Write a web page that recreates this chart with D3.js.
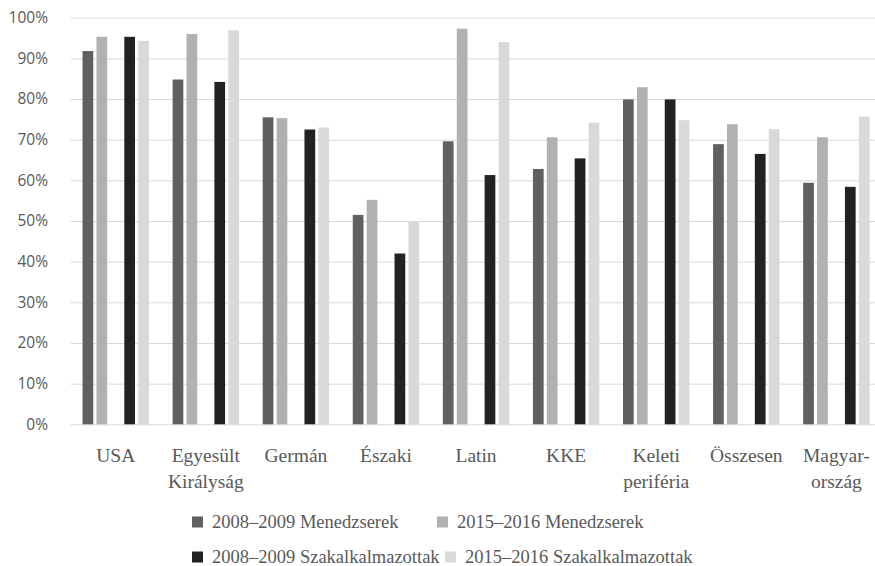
<!DOCTYPE html>
<html>
<head>
<meta charset="utf-8">
<script src="https://cdn.jsdelivr.net/npm/d3@7"></script>
<style>
  html, body { margin: 0; padding: 0; background: #fff; }
  svg { display: block; }
</style>
</head>
<body>
<svg id="chart" width="875" height="566"></svg>
<script>
// Régiók (két soros címkék soronként)
const categories = [
  ["USA"], ["Egyesült", "Királyság"], ["Germán"], ["Északi"], ["Latin"],
  ["KKE"], ["Keleti", "periféria"], ["Összesen"], ["Magyar-", "ország"]
];

// Arányok százalékban
const menedzserek2008 = [91.8, 84.8, 75.5, 51.5, 69.6, 62.8, 79.9, 68.9, 59.4];
const menedzserek2015 = [95.3, 96.0, 75.3, 55.2, 97.3, 70.6, 82.9, 73.8, 70.6];
const szakalk2008     = [95.3, 84.2, 72.5, 42.0, 61.3, 65.4, 79.9, 66.5, 58.4];
const szakalk2015     = [94.3, 96.9, 73.0, 49.9, 94.0, 74.2, 74.8, 72.6, 75.7];

const seriesNames = [
  "2008–2009 Menedzserek", "2015–2016 Menedzserek",
  "2008–2009 Szakalkalmazottak", "2015–2016 Szakalkalmazottak"
];
const yTicks = [0, 10, 20, 30, 40, 50, 60, 70, 80, 90, 100];

const series = [
  { key: "m08", name: seriesNames[0], values: menedzserek2008, color: "#606060" },
  { key: "m15", name: seriesNames[1], values: menedzserek2015, color: "#b1b1b1" },
  { key: "s08", name: seriesNames[2], values: szakalk2008,     color: "#222222" },
  { key: "s15", name: seriesNames[3], values: szakalk2015,     color: "#d9d9d9" }
];

const svg = d3.select("#chart");
const textColor = "#595959";
const serif = "'Liberation Serif', 'DejaVu Serif', serif";
const sans = "'Open Sans', 'Noto Sans', sans-serif";

const plot = { left: 70.7, right: 881.4, top: 17.7, bottom: 424.3 };

const x = d3.scaleBand()
  .domain(d3.range(categories.length))
  .range([plot.left, plot.right])
  .padding(0);

// Az alcsoportokban üres hely választja el a két foglalkozási csoportot
const xInner = d3.scaleBand()
  .domain(["m08", "m15", "gap", "s08", "s15"])
  .range([0, x.bandwidth()])
  .paddingInner(0.23)
  .paddingOuter(0.85);

const y = d3.scaleLinear().domain([0, 100]).range([plot.bottom, plot.top]);

// Rácsvonalak
svg.append("g")
  .attr("transform", `translate(${plot.left},0)`)
  .call(d3.axisLeft(y).tickValues(yTicks).tickSize(-(plot.right - plot.left)).tickFormat(""))
  .call(g => g.select(".domain").remove())
  .call(g => g.selectAll(".tick line").attr("stroke", "#d9d9d9").attr("stroke-width", 1));

// Y tengely feliratai
svg.append("g")
  .attr("transform", `translate(48,0)`)
  .call(d3.axisLeft(y).tickValues(yTicks).tickSize(0).tickPadding(0).tickFormat(d => d + "%"))
  .call(g => g.select(".domain").remove())
  .call(g => g.selectAll(".tick text")
    .attr("fill", textColor)
    .attr("font-family", sans)
    .attr("font-size", 15.5));

// Oszlopok
const groups = svg.append("g").selectAll("g")
  .data(series)
  .join("g")
  .attr("fill", d => d.color);

groups.selectAll("rect")
  .data(s => s.values.map((v, i) => ({ key: s.key, v, i })))
  .join("rect")
  .attr("x", d => x(d.i) + xInner(d.key))
  .attr("width", xInner.bandwidth())
  .attr("y", d => y(d.v))
  .attr("height", d => y(0) - y(d.v));

// Kategória feliratok
const catLabels = svg.append("g")
  .selectAll("text")
  .data(categories)
  .join("text")
  .attr("x", (d, i) => x(i) + x.bandwidth() / 2)
  .attr("y", 461.5)
  .attr("text-anchor", "middle")
  .attr("fill", textColor)
  .attr("font-family", serif)
  .attr("font-size", 19.5);

catLabels.selectAll("tspan")
  .data(d => d)
  .join("tspan")
  .attr("x", function () { return d3.select(this.parentNode).attr("x"); })
  .attr("dy", (d, i) => i === 0 ? 0 : 26)
  .text(d => d);

// Jelmagyarázat
const legendPos = [
  { x: 192, y: 522 }, { x: 437, y: 522 },
  { x: 192, y: 557 }, { x: 445, y: 557 }
];
const legend = svg.append("g")
  .selectAll("g")
  .data(series)
  .join("g")
  .attr("transform", (d, i) => `translate(${legendPos[i].x},${legendPos[i].y})`);

legend.append("rect")
  .attr("x", 0).attr("y", -5.5)
  .attr("width", 11).attr("height", 11)
  .attr("fill", d => d.color);

legend.append("text")
  .attr("x", 20)
  .attr("y", 0)
  .attr("dy", "0.35em")
  .attr("fill", textColor)
  .attr("font-family", serif)
  .attr("font-size", 18.5)
  .text(d => d.name);
</script>
</body>
</html>
